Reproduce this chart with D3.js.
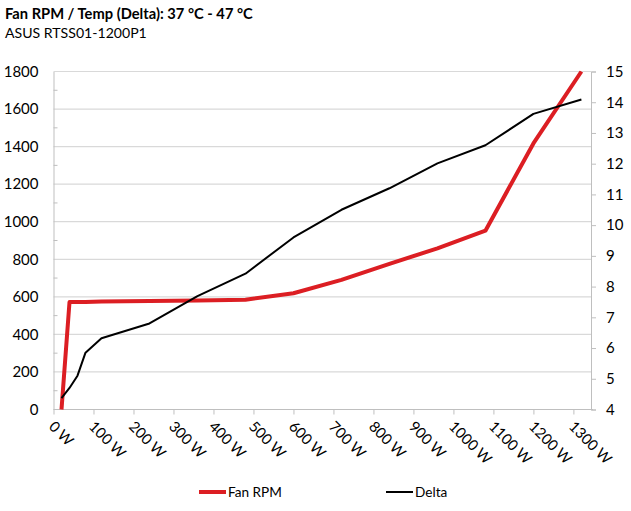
<!DOCTYPE html>
<html><head><meta charset="utf-8">
<script src="https://cdn.jsdelivr.net/npm/d3@7"></script>
<style>body{margin:0;background:#fff}svg{display:block}text{font-family:Lato,"Open Sans",sans-serif}</style>
</head><body><svg id="c" width="631" height="511"></svg>
<script>
const title = "Fan RPM / Temp (Delta): 37 °C - 47 °C";
const subtitle = "ASUS RTSS01-1200P1";
const loadW = [20, 40, 60, 80, 120, 240, 360, 480, 600, 720, 840, 960, 1080, 1200, 1320];
const fanRPM = [0, 572, 572, 573, 575, 578, 581, 585, 619, 690, 776, 858, 952, 1417, 1800];
const deltaC = [4.37, 4.7, 5.1, 5.85, 6.32, 6.8, 7.69, 8.42, 9.6, 10.5, 11.2, 12.01, 12.6, 13.62, 14.09];
const xTicks = [0,100,200,300,400,500,600,700,800,900,1000,1100,1200,1300];
const yLeftTicks = [0,200,400,600,800,1000,1200,1400,1600,1800];
const yRightTicks = [4,5,6,7,8,9,10,11,12,13,14,15];
const seriesNames = ["Fan RPM", "Delta"];

const svg = d3.select("#c");
const L = 53.5, R = 591, T = 71.5, B = 409.5;
const x = d3.scaleLinear().domain([0, 1344]).range([L, R]);
const yL = d3.scaleLinear().domain([0, 1800]).range([B, T]);
const yR = d3.scaleLinear().domain([4, 15]).range([B, T]);

svg.append("text").attr("x", 5).attr("y", 19).attr("font-size", 14.7).attr("font-weight", "bold").attr("fill", "#000").text(title);
svg.append("text").attr("x", 5).attr("y", 38).attr("font-size", 14.1).attr("fill", "#000").text(subtitle);

// gridlines
svg.append("g").selectAll("line").data(yLeftTicks.filter(d=>d>0)).join("line")
  .attr("x1", L).attr("x2", R).attr("y1", d=>yL(d)).attr("y2", d=>yL(d))
  .attr("stroke", "#d9d9d9").attr("stroke-width", 1.2);

// left axis
const gl = svg.append("g").attr("transform", `translate(${L},0)`)
  .call(d3.axisLeft(yL).tickValues(yLeftTicks).tickSize(0).tickPadding(15).tickFormat(d3.format("d")));
gl.select(".domain").attr("stroke", "#bfbfbf");
gl.selectAll("text").attr("font-size", 15).attr("fill", "#000").attr("font-family", "Lato");
// minor ticks left
svg.append("g").selectAll("line").data(d3.range(100, 1800, 200)).join("line")
  .attr("x1", L).attr("x2", L+4).attr("y1", d=>yL(d)).attr("y2", d=>yL(d)).attr("stroke", "#bfbfbf");

// right axis
const gr = svg.append("g").attr("transform", `translate(${R},0)`)
  .call(d3.axisRight(yR).tickValues(yRightTicks).tickSize(5).tickPadding(10));
gr.select(".domain").attr("stroke", "#bfbfbf");
gr.selectAll(".tick line").attr("stroke", "#bfbfbf");
gr.selectAll("text").attr("font-size", 15).attr("fill", "#000").attr("font-family", "Lato");

// bottom axis
const gb = svg.append("g").attr("transform", `translate(0,${B})`)
  .call(d3.axisBottom(x).tickValues(xTicks).tickSize(5).tickFormat(d=>d+" W"));
gb.select(".domain").attr("stroke", "#bfbfbf").attr("d", `M${L},0H${R+2}`);
gb.selectAll(".tick line").attr("stroke", "#bfbfbf");
gb.selectAll("text").attr("font-size", 14.8).attr("fill", "#000").attr("font-family", "Lato")
  .attr("text-anchor", "start").attr("dy", null).attr("y", 0)
  .attr("transform", "translate(-6,18) rotate(45)");

// lines
svg.append("clipPath").attr("id", "pc").append("rect").attr("x", L).attr("y", T-1).attr("width", R-L).attr("height", B-T+2);
const pts = loadW.map((w,i)=>({w, rpm: fanRPM[i], d: deltaC[i]}));
svg.append("path").datum(pts).attr("clip-path", "url(#pc)")
  .attr("d", d3.line().x(p=>x(p.w)).y(p=>yL(p.rpm)))
  .attr("fill", "none").attr("stroke", "#dc1e23").attr("stroke-width", 4).attr("stroke-linejoin", "round");
svg.append("path").datum(pts)
  .attr("d", d3.line().x(p=>x(p.w)).y(p=>yR(p.d)))
  .attr("fill", "none").attr("stroke", "#000").attr("stroke-width", 2).attr("stroke-linejoin", "round");

// legend
const lg = svg.append("g");
const legendItems = [{name: seriesNames[0], color: "#dc1e23", w: 4, x: 199}, {name: seriesNames[1], color: "#000", w: 2, x: 386}];
legendItems.forEach(it=>{
  lg.append("line").attr("x1", it.x).attr("x2", it.x+27).attr("y1", 492).attr("y2", 492).attr("stroke", it.color).attr("stroke-width", it.w);
  lg.append("text").attr("x", it.x+29).attr("y", 497).attr("font-size", 13.6).attr("fill", "#000").text(it.name);
});
</script></body></html>
